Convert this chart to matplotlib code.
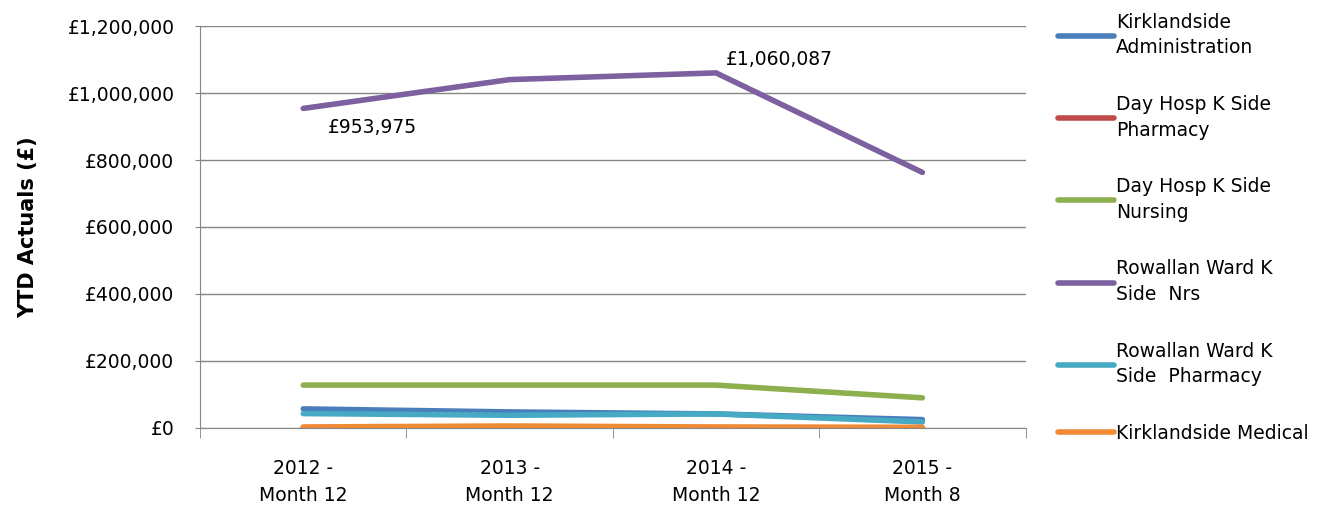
import matplotlib.pyplot as plt
from matplotlib.ticker import FuncFormatter

plt.rcParams['font.family'] = ['DejaVu Sans']

periods = ['2012 -\nMonth 12', '2013 -\nMonth 12', '2014 -\nMonth 12', '2015 -\nMonth 8']

admin = [57000, 48000, 42000, 25000]
dh_pharmacy = [1000, 1000, 1000, 500]
dh_nursing = [128000, 128000, 128000, 90000]
rw_nrs = [953975, 1040000, 1060087, 763000]
rw_pharmacy = [43000, 38000, 42000, 18000]
kirk_medical = [3000, 6000, 3000, 2000]

series = [
    ('Kirklandside\nAdministration', admin, '#4A7EBB'),
    ('Day Hosp K Side\nPharmacy', dh_pharmacy, '#BE4B48'),
    ('Day Hosp K Side\nNursing', dh_nursing, '#8DB04E'),
    ('Rowallan Ward K\nSide  Nrs', rw_nrs, '#7D60A0'),
    ('Rowallan Ward K\nSide  Pharmacy', rw_pharmacy, '#46AAC5'),
    ('Kirklandside Medical', kirk_medical, '#F08A35'),
]

fs = 13.5

fig = plt.figure(figsize=(13.25, 5.05), dpi=100)
ax = fig.add_axes([0.151, 0.1525, 0.623, 0.796])

x = list(range(len(periods)))
lines = []
for name, vals, col in series:
    ln, = ax.plot(x, vals, color=col, lw=4, label=name, solid_capstyle='round')
    lines.append(ln)

ax.set_xlim(-0.5, len(periods) - 0.5)
ax.set_ylim(0, 1200000)
ax.set_yticks(range(0, 1200001, 200000))
ax.yaxis.set_major_formatter(FuncFormatter(lambda v, p: '£{:,.0f}'.format(v)))
ax.set_xticks(x)
ax.set_xticklabels(periods, fontsize=fs, linespacing=1.55)
ax.set_xticks([i - 0.5 for i in range(len(periods) + 1)], minor=True)
ax.tick_params(axis='x', which='major', length=0, pad=22)
ax.tick_params(axis='x', which='minor', length=7, color='#868686', direction='out')
ax.tick_params(axis='y', length=7, color='#868686', direction='inout', labelsize=fs, pad=15)

ax.grid(axis='y', color='#868686', lw=1)
ax.set_axisbelow(True)
for s in ['top', 'right']:
    ax.spines[s].set_visible(False)
for s in ['left', 'bottom']:
    ax.spines[s].set_color('#868686')

ax.set_ylabel('YTD Actuals (£)', fontsize=15, fontweight='bold', labelpad=21)

ax.text(x[0] + 0.12, rw_nrs[0] - 30000, '£{:,}'.format(rw_nrs[0]), fontsize=fs, va='top', ha='left')
ax.text(x[2] + 0.05, rw_nrs[2] + 12000, '£{:,}'.format(rw_nrs[2]), fontsize=fs, va='bottom', ha='left')

leg = fig.legend(handles=lines, loc='upper left', bbox_to_anchor=(0.793, 0.99), frameon=False,
                 fontsize=fs, handlelength=3.0, handletextpad=0.1, labelspacing=2.0,
                 borderaxespad=0)
for t in leg.get_texts():
    t.set_linespacing(1.45)

fig.savefig('out.png', dpi=100)
